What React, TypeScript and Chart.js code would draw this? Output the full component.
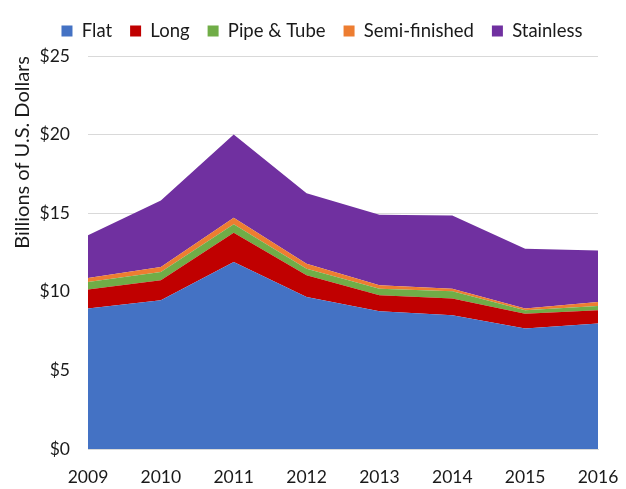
import React, { useEffect, useRef } from "react";
import { Chart, registerables } from "chart.js";

Chart.register(...registerables);

const years = ["2009", "2010", "2011", "2012", "2013", "2014", "2015", "2016"];
const flat = [8.93, 9.46, 11.89, 9.67, 8.76, 8.51, 7.66, 7.98];
const longProducts = [1.21, 1.27, 1.87, 1.38, 1.02, 1.06, 0.95, 0.85];
const pipeTube = [0.48, 0.53, 0.53, 0.42, 0.42, 0.46, 0.22, 0.27];
const semiFinished = [0.26, 0.31, 0.42, 0.32, 0.21, 0.17, 0.1, 0.25];
const stainless = [2.72, 4.24, 5.29, 4.48, 4.49, 4.66, 3.81, 3.28];

const seriesNames = ["Flat", "Long", "Pipe & Tube", "Semi-finished", "Stainless"];
const seriesColors = ["#4472C4", "#C00000", "#70AD47", "#ED7D31", "#7030A0"];
const yTicks = [0, 5, 10, 15, 20, 25];

const FONT = "Lato, 'Liberation Sans', sans-serif";
const TEXT = "#1a1a1a";

export default function App() {
  const ref = useRef<HTMLCanvasElement | null>(null);

  useEffect(() => {
    if (!ref.current) return;
    const values = [flat, longProducts, pipeTube, semiFinished, stainless];
    const chart = new Chart(ref.current, {
      type: "line",
      data: {
        labels: years,
        datasets: values.map((v, i) => ({
          label: seriesNames[i],
          data: v,
          backgroundColor: seriesColors[i],
          borderColor: seriesColors[i],
          borderWidth: 0,
          pointRadius: 0,
          tension: 0,
          fill: i === 0 ? "origin" : "-1",
        })),
      },
      options: {
        responsive: false,
        animation: false,
        layout: { padding: { left: 18, right: 0, top: 3.75, bottom: 1.5 } },
        plugins: {
          legend: {
            position: "top",
            labels: {
              boxWidth: 11,
              boxHeight: 11,
              padding: 18,
              color: TEXT,
              font: { family: FONT, size: 18.5 },
            },
          },
          title: {
            display: true,
            text: " ",
            position: "top",
            weight: 500,
            padding: 0,
            font: { size: 5, lineHeight: 1.15 },
          } as any,
          tooltip: { enabled: false },
        },
        scales: {
          x: {
            type: "category",
            offset: false,
            grid: { display: false, drawTicks: false },
            border: { display: true, color: "#d9d9d9" },
            afterFit: (s: any) => {
              s.height = 38.5;
              s.paddingLeft = 0;
              s.paddingRight = 28;
            },
            ticks: {
              padding: 17.5,
              color: TEXT,
              font: { family: FONT, size: 17.5 },
              maxRotation: 0,
              autoSkip: false,
            },
          },
          y: {
            type: "linear",
            stacked: true,
            min: 0,
            max: 25,
            afterFit: (s: any) => {
              s.width = 70;
            },
            afterBuildTicks: (s: any) => {
              s.ticks = yTicks.map((v) => ({ value: v }));
            },
            grid: { color: "#d9d9d9", lineWidth: 1, drawTicks: false },
            border: { display: false },
            ticks: {
              padding: 18,
              color: TEXT,
              font: { family: FONT, size: 17.5 },
              callback: (v: any) => "$" + v,
            },
            title: {
              display: true,
              text: "Billions of U.S. Dollars",
              align: "end",
              color: TEXT,
              padding: 0,
              font: { family: FONT, size: 20, lineHeight: 0.5 },
            },
          },
        },
      },
    } as any);
    return () => chart.destroy();
  }, []);

  return (
    <div style={{ position: "absolute", left: 0, top: 0, width: 626, height: 489 }}>
      <canvas ref={ref} width={626} height={489} style={{ display: "block" }} />
    </div>
  );
}
